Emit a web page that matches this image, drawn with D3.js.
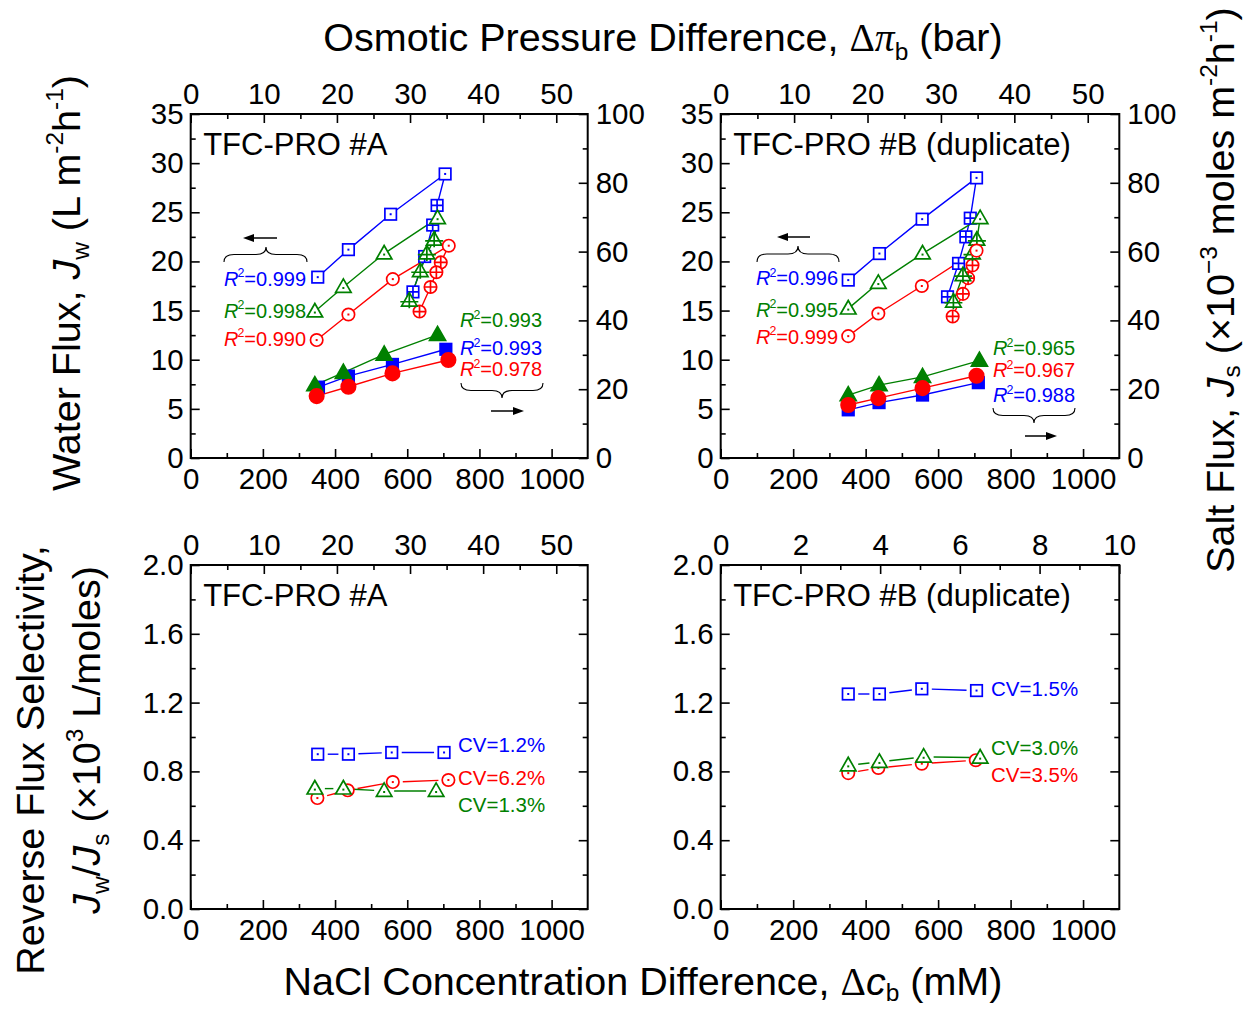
<!DOCTYPE html>
<html><head><meta charset="utf-8">
<script src="https://cdn.jsdelivr.net/npm/d3@7"></script>
<style>
body{margin:0;background:#fff;}
svg text{font-family:"Liberation Sans", Arial, sans-serif;}
</style></head><body>
<svg id="chart" width="1249" height="1011"></svg>
<script>
// ================= DATA =================
const concTicks = [0, 200, 400, 600, 800, 1000];
const concMinor = [100, 300, 500, 700, 900];
const piTicks = [0, 10, 20, 30, 40, 50];
const piMinor = [5, 15, 25, 35, 45];
const piTicksB = [0, 2, 4, 6, 8, 10];
const piMinorB = [1, 3, 5, 7, 9];
const jwTicks = [0, 5, 10, 15, 20, 25, 30, 35];
const jwMinor = [2.5, 7.5, 12.5, 17.5, 22.5, 27.5, 32.5];
const jsTicks = [0, 20, 40, 60, 80, 100];
const jsMinor = [10, 30, 50, 70, 90];
const selTicks = [0, 0.4, 0.8, 1.2, 1.6, 2.0];
const selMinor = [0.2, 0.6, 1.0, 1.4, 1.8];

// --- TFC-PRO #A : water flux vs NaCl concentration difference (open, dotted)
const A_jwBlue_c = [352, 437, 554, 705];
const A_jwBlue = [18.4, 21.2, 24.8, 28.9];
const A_jwGreen_c = [344, 423, 536, 684];
const A_jwGreen = [14.9, 17.4, 20.8, 24.4];
const A_jwRed_c = [349, 437, 560, 715];
const A_jwRed = [12.0, 14.6, 18.2, 21.6];
// --- TFC-PRO #A : water flux vs osmotic pressure difference (crossed)
const A_jwBlue_pi = [33.7, 33.1, 32.0, 30.4];
const A_jwBluePi = [25.7, 23.7, 20.5, 16.9];
const A_jwGreen_pi = [33.3, 32.3, 31.4, 29.9];
const A_jwGreenPi = [22.2, 20.8, 19.0, 16.0];
const A_jwRed_pi = [34.2, 33.6, 32.8, 31.3];
const A_jwRedPi = [19.9, 18.9, 17.4, 14.9];
// --- TFC-PRO #A : salt flux (solid)
const A_jsBlue_c = [354, 437, 559, 707];
const A_jsBlue = [20.6, 23.8, 27.2, 31.6];
const A_jsGreen_c = [344, 423, 536, 684];
const A_jsGreen = [21.2, 24.8, 30.1, 35.8];
const A_jsRed_c = [349, 437, 559, 714];
const A_jsRed = [18.0, 20.7, 24.6, 28.5];

// --- TFC-PRO #B
const B_jwBlue_c = [352, 438, 556, 706];
const B_jwBlue = [18.1, 20.8, 24.3, 28.5];
const B_jwGreen_c = [352, 435, 557, 716];
const B_jwGreen = [15.2, 17.8, 20.8, 24.4];
const B_jwRed_c = [352, 435, 555, 706];
const B_jwRed = [12.4, 14.7, 17.5, 21.1];
const B_jwBlue_pi = [34.0, 33.4, 32.4, 30.9];
const B_jwBluePi = [24.4, 22.5, 19.8, 16.4];
const B_jwGreen_pi = [34.9, 34.3, 33.0, 31.7];
const B_jwGreenPi = [22.2, 20.8, 18.6, 15.9];
const B_jwRed_pi = [34.3, 33.7, 33.0, 31.6];
const B_jwRedPi = [19.6, 18.3, 16.7, 14.4];
const B_jsBlue_c = [352, 437, 557, 711];
const B_jsBlue = [14.0, 16.1, 18.3, 21.9];
const B_jsGreen_c = [352, 437, 557, 714];
const B_jsGreen = [18.3, 21.2, 23.6, 28.3];
const B_jsRed_c = [352, 435, 557, 706];
const B_jsRed = [15.4, 17.4, 20.3, 23.9];

// --- Reverse flux selectivity
const A_selBlue_c = [352, 437, 557, 702];
const A_selBlue = [0.90, 0.90, 0.91, 0.91];
const A_selRed_c = [351, 435, 560, 714];
const A_selRed = [0.645, 0.69, 0.738, 0.75];
const A_selGreen_c = [344, 423, 536, 680];
const A_selGreen = [0.70, 0.70, 0.686, 0.686];
const B_selBlue_c = [352, 438, 555, 706];
const B_selBlue = [1.25, 1.25, 1.28, 1.27];
const B_selGreen_c = [352, 438, 560, 716];
const B_selGreen = [0.835, 0.855, 0.885, 0.88];
const B_selRed_c = [352, 435, 555, 704];
const B_selRed = [0.79, 0.82, 0.845, 0.865];

const A_r2Left = ["0.999", "0.998", "0.990"];
const A_r2Right = ["0.993", "0.993", "0.978"];
const B_r2Left = ["0.996", "0.995", "0.999"];
const B_r2Right = ["0.965", "0.967", "0.988"];
const A_cv = ["1.2%", "6.2%", "1.3%"];
const B_cv = ["1.5%", "3.0%", "3.5%"];

// ================= DRAWING =================
const BLUE = "#0000ff", RED = "#ff0000", GREEN = "#008000";
const SERIF = '"Liberation Serif", "Times New Roman", serif';
const svg = d3.select("#chart");
const TICKFS = 29.5;

const zip = (xs, ys) => xs.map((x, i) => [x, ys[i]]);

function makePanel(p) {
  const g = svg.append("g");
  const x = d3.scaleLinear().domain([0, 1100]).range([p.x0, p.x1]);
  const xt = d3.scaleLinear().domain(p.topDomain).range([p.x0, p.x1]);
  const y = d3.scaleLinear().domain(p.yDomain).range([p.y1, p.y0]);
  const yr = p.yrDomain ? d3.scaleLinear().domain(p.yrDomain).range([p.y1, p.y0]) : null;

  function ax(gen, tr) {
    const a = g.append("g").attr("transform", tr).call(gen);
    a.select(".domain").remove();
    a.selectAll("line").attr("stroke", "#000").attr("stroke-width", 1.6);
    a.selectAll("text").attr("font-size", TICKFS).attr("fill", "#000")
      .style("font-family", '"Liberation Sans", Arial, sans-serif');
    return a;
  }
  ax(d3.axisBottom(x).tickValues(concTicks).tickSize(-9).tickPadding(10).tickFormat(d3.format("d")), `translate(0,${p.y1})`);
  ax(d3.axisBottom(x).tickValues(concMinor).tickSize(-5).tickFormat(""), `translate(0,${p.y1})`);
  ax(d3.axisTop(xt).tickValues(p.topTicks).tickSize(-9).tickPadding(10).tickFormat(d3.format("d")), `translate(0,${p.y0})`);
  ax(d3.axisTop(xt).tickValues(p.topMinor).tickSize(-5).tickFormat(""), `translate(0,${p.y0})`);
  ax(d3.axisLeft(y).tickValues(p.yTicks).tickSize(-9).tickPadding(7).tickFormat(p.yFmt), `translate(${p.x0},0)`);
  ax(d3.axisLeft(y).tickValues(p.yMinor).tickSize(-5).tickFormat(""), `translate(${p.x0},0)`);
  if (yr) {
    ax(d3.axisRight(yr).tickValues(jsTicks).tickSize(-9).tickPadding(8).tickFormat(d3.format("d")), `translate(${p.x1},0)`);
    ax(d3.axisRight(yr).tickValues(jsMinor).tickSize(-5).tickFormat(""), `translate(${p.x1},0)`);
  } else {
    ax(d3.axisRight(y).tickValues(p.yTicks).tickSize(-9).tickFormat(""), `translate(${p.x1},0)`);
    ax(d3.axisRight(y).tickValues(p.yMinor).tickSize(-5).tickFormat(""), `translate(${p.x1},0)`);
  }
  g.append("rect").attr("x", p.x0).attr("y", p.y0).attr("width", p.x1 - p.x0).attr("height", p.y1 - p.y0)
    .attr("fill", "none").attr("stroke", "#000").attr("stroke-width", 2);
  g.append("text").attr("x", p.x0 + 12.5).attr("y", p.y0 + 41).attr("font-size", 31).text(p.title);
  return { g, x, xt, y, yr };
}

function marker(g, type, cx, cy, color) {
  const sw = 1.7;
  const base = type.split("-")[0], deco = type.split("-")[1];
  if (base === "sq") {
    const s = 11.5;
    g.append("rect").attr("x", cx - s / 2).attr("y", cy - s / 2).attr("width", s).attr("height", s)
      .attr("fill", deco === "fill" ? color : "#fff").attr("stroke", color).attr("stroke-width", sw);
    if (deco === "cross") {
      g.append("path").attr("d", `M${cx - s / 2},${cy}H${cx + s / 2}M${cx},${cy - s / 2}V${cy + s / 2}`)
        .attr("stroke", color).attr("stroke-width", sw);
    }
  } else if (base === "ci") {
    const r = deco === "fill" ? 7.2 : 6.2;
    g.append("circle").attr("cx", cx).attr("cy", cy).attr("r", r)
      .attr("fill", deco === "fill" ? color : "#fff").attr("stroke", color).attr("stroke-width", sw);
    if (deco === "cross") {
      g.append("path").attr("d", `M${cx - r},${cy}H${cx + r}M${cx},${cy - r}V${cy + r}`)
        .attr("stroke", color).attr("stroke-width", sw);
    }
  } else if (base === "tr") {
    const w = deco === "fill" ? 16 : 15.5, h = deco === "fill" ? 14 : 13.5;
    const top = cy - h * 0.6, bot = cy + h * 0.4;
    g.append("path").attr("d", `M${cx},${top}L${cx - w / 2},${bot}L${cx + w / 2},${bot}Z`)
      .attr("fill", deco === "fill" ? color : "#fff").attr("stroke", color).attr("stroke-width", sw)
      .attr("stroke-linejoin", "miter");
    if (deco === "cross") {
      g.append("path").attr("d", `M${cx - 9},${cy + 1}H${cx + 9}M${cx},${top}V${bot + 2}`)
        .attr("stroke", color).attr("stroke-width", sw);
    }
  }
  if (deco === "dot") {
    g.append("rect").attr("x", cx - 1).attr("y", cy - 1 + (base === "tr" ? 1 : 0)).attr("width", 2).attr("height", 2).attr("fill", color);
  }
}

const lineGen = d3.line();

function drawLine(g, pts, color, gap) {
  if (!gap) {
    g.append("path").attr("d", lineGen(pts)).attr("fill", "none").attr("stroke", color).attr("stroke-width", 1.4);
  } else {
    for (let i = 0; i < pts.length - 1; i++) {
      const [x1, y1] = pts[i], [x2, y2] = pts[i + 1];
      const L = Math.hypot(x2 - x1, y2 - y1);
      if (L <= 2 * gap) continue;
      const ux = (x2 - x1) / L, uy = (y2 - y1) / L;
      g.append("path").attr("d", lineGen([[x1 + ux * gap, y1 + uy * gap], [x2 - ux * gap, y2 - uy * gap]]))
        .attr("fill", "none").attr("stroke", color).attr("stroke-width", 1.4);
    }
  }
}
function marks(g, pts, type, color) {
  pts.forEach(([px, py]) => marker(g, type, px, py, color));
}

function richText(parent, x, y, parts, size, opts = {}) {
  const t = parent.append("text").attr("x", x).attr("y", y).attr("font-size", size)
    .attr("fill", opts.fill || "#000");
  if (opts.anchor) t.attr("text-anchor", opts.anchor);
  if (opts.transform) t.attr("transform", opts.transform);
  const subOff = opts.subOff != null ? opts.subOff : 0.28;
  let cur = 0;
  parts.forEach(p => {
    let off = 0, fs = size;
    if (p.sub) { off = size * subOff; fs = size * 0.62; }
    if (p.sup) { off = -size * 0.42; fs = size * 0.62; }
    const ts = t.append("tspan").text(p.t).attr("font-size", fs).attr("dy", off - cur);
    if (p.dx) ts.attr("dx", p.dx);
    cur = off;
    if (p.i) ts.attr("font-style", "italic");
    if (p.serif) ts.style("font-family", SERIF);
  });
  return t;
}

function r2Label(g, x, y, val, color) {
  richText(g, x, y, [{ t: "R", i: true }, { t: "2", sup: true, dx: -1 }, { t: "=" + val }], 20, { fill: color });
}
function cvLabel(g, x, y, val, color) {
  g.append("text").attr("x", x).attr("y", y).attr("font-size", 20.5).attr("fill", color).text("CV=" + val);
}
function brace(g, x1, x2, yEnd, yTip, xm) {
  const h = yTip - yEnd, mid = yEnd + h / 2, q = Math.min(10, (x2 - x1) / 6);
  g.append("path").attr("d",
    `M${x1},${yEnd}Q${x1},${mid} ${x1 + q},${mid}L${xm - q},${mid}Q${xm},${mid} ${xm},${yTip}` +
    `Q${xm},${mid} ${xm + q},${mid}L${x2 - q},${mid}Q${x2},${mid} ${x2},${yEnd}`)
    .attr("fill", "none").attr("stroke", "#000").attr("stroke-width", 1.1);
}
function arrow(g, xFrom, xTo, y) {
  const dir = Math.sign(xTo - xFrom), hl = 11, hw = 4;
  g.append("line").attr("x1", xFrom).attr("x2", xTo - dir * hl + dir).attr("y1", y).attr("y2", y)
    .attr("stroke", "#000").attr("stroke-width", 1.5);
  g.append("path").attr("d", `M${xTo},${y}L${xTo - dir * hl},${y - hw}L${xTo - dir * hl},${y + hw}Z`).attr("fill", "#000");
}

// ---------- Panels ----------
const TL = makePanel({ x0: 190.7, x1: 587.7, y0: 114, y1: 458, topDomain: [0, 54.3], topTicks: piTicks, topMinor: piMinor,
  yDomain: [0, 35], yTicks: jwTicks, yMinor: jwMinor, yFmt: d3.format("d"), yrDomain: [0, 100], title: "TFC-PRO #A" });
const TR = makePanel({ x0: 720.7, x1: 1119.3, y0: 114, y1: 458, topDomain: [0, 54.3], topTicks: piTicks, topMinor: piMinor,
  yDomain: [0, 35], yTicks: jwTicks, yMinor: jwMinor, yFmt: d3.format("d"), yrDomain: [0, 100], title: "TFC-PRO #B (duplicate)" });
const BL = makePanel({ x0: 190.7, x1: 587.7, y0: 565, y1: 909, topDomain: [0, 54.3], topTicks: piTicks, topMinor: piMinor,
  yDomain: [0, 2], yTicks: selTicks, yMinor: selMinor, yFmt: d3.format(".1f"), title: "TFC-PRO #A" });
const BR = makePanel({ x0: 720.7, x1: 1119.3, y0: 565, y1: 909, topDomain: [0, 10], topTicks: piTicksB, topMinor: piMinorB,
  yDomain: [0, 2], yTicks: selTicks, yMinor: selMinor, yFmt: d3.format(".1f"), title: "TFC-PRO #B (duplicate)" });

function fluxPanel(P, d) {
  const g = P.g.append("g");
  const pc = (xs, ys) => zip(xs, ys).map(([a, b]) => [P.x(a), P.y(b)]);
  const pp = (xs, ys) => zip(xs, ys).map(([a, b]) => [P.xt(a), P.y(b)]);
  const ps = (xs, ys) => zip(xs, ys).map(([a, b]) => [P.x(a), P.yr(b)]);
  const S = [
    { c: BLUE, o: pc(d.bc, d.b), k: pp(d.bpx, d.bp), s: ps(d.sbc, d.sb), to: "sq-dot", tk: "sq-cross", ts: "sq-fill" },
    { c: GREEN, o: pc(d.gc, d.g), k: pp(d.gpx, d.gp), s: ps(d.sgc, d.sg), to: "tr-dot", tk: "tr-cross", ts: "tr-fill" },
    { c: RED, o: pc(d.rc, d.r), k: pp(d.rpx, d.rp), s: ps(d.src, d.sr), to: "ci-dot", tk: "ci-cross", ts: "ci-fill" }
  ];
  S.forEach(s => drawLine(g, s.s, s.c));
  S.forEach(s => marks(g, s.s, s.ts, s.c));
  S.forEach(s => { drawLine(g, s.o, s.c); drawLine(g, [s.o[s.o.length - 1]].concat(s.k), s.c); });
  [S[2], S[0], S[1]].forEach(s => { marks(g, s.k, s.tk, s.c); });
  [S[2], S[0], S[1]].forEach(s => { marks(g, s.o, s.to, s.c); });
}

fluxPanel(TL, { bc: A_jwBlue_c, b: A_jwBlue, gc: A_jwGreen_c, g: A_jwGreen, rc: A_jwRed_c, r: A_jwRed,
  bpx: A_jwBlue_pi, bp: A_jwBluePi, gpx: A_jwGreen_pi, gp: A_jwGreenPi, rpx: A_jwRed_pi, rp: A_jwRedPi,
  sbc: A_jsBlue_c, sb: A_jsBlue, sgc: A_jsGreen_c, sg: A_jsGreen, src: A_jsRed_c, sr: A_jsRed });
fluxPanel(TR, { bc: B_jwBlue_c, b: B_jwBlue, gc: B_jwGreen_c, g: B_jwGreen, rc: B_jwRed_c, r: B_jwRed,
  bpx: B_jwBlue_pi, bp: B_jwBluePi, gpx: B_jwGreen_pi, gp: B_jwGreenPi, rpx: B_jwRed_pi, rp: B_jwRedPi,
  sbc: B_jsBlue_c, sb: B_jsBlue, sgc: B_jsGreen_c, sg: B_jsGreen, src: B_jsRed_c, sr: B_jsRed });

function selPanel(P, list) {
  const g = P.g.append("g");
  list.forEach(s => drawLine(g, zip(s.xs, s.ys).map(([a, b]) => [P.x(a), P.y(b)]), s.c, 10));
  list.forEach(s => marks(g, zip(s.xs, s.ys).map(([a, b]) => [P.x(a), P.y(b)]), s.t, s.c));
}
selPanel(BL, [
  { xs: A_selBlue_c, ys: A_selBlue, c: BLUE, t: "sq-dot" },
  { xs: A_selRed_c, ys: A_selRed, c: RED, t: "ci-dot" },
  { xs: A_selGreen_c, ys: A_selGreen, c: GREEN, t: "tr-dot" }
]);
selPanel(BR, [
  { xs: B_selBlue_c, ys: B_selBlue, c: BLUE, t: "sq-dot" },
  { xs: B_selRed_c, ys: B_selRed, c: RED, t: "ci-dot" },
  { xs: B_selGreen_c, ys: B_selGreen, c: GREEN, t: "tr-dot" }
]);

// ---------- Annotations ----------
const an = svg.append("g");
r2Label(an, 224, 285.5, A_r2Left[0], BLUE);
r2Label(an, 224, 317.5, A_r2Left[1], GREEN);
r2Label(an, 224, 345.5, A_r2Left[2], RED);
r2Label(an, 460, 327, A_r2Right[0], GREEN);
r2Label(an, 460, 355, A_r2Right[1], BLUE);
r2Label(an, 460, 376, A_r2Right[2], RED);
brace(an, 224, 307, 262, 247, 266);
arrow(an, 277, 243, 238);
brace(an, 461, 543, 383, 398, 502);
arrow(an, 491, 524, 411);
r2Label(an, 756, 285, B_r2Left[0], BLUE);
r2Label(an, 756, 316.5, B_r2Left[1], GREEN);
r2Label(an, 756, 343.5, B_r2Left[2], RED);
r2Label(an, 993, 355, B_r2Right[0], GREEN);
r2Label(an, 993, 377, B_r2Right[1], RED);
r2Label(an, 993, 402, B_r2Right[2], BLUE);
brace(an, 757, 839, 262, 246, 798);
arrow(an, 810, 777, 237);
brace(an, 993, 1075, 408, 423, 1034);
arrow(an, 1025, 1057, 436);
cvLabel(an, 458, 752, A_cv[0], BLUE);
cvLabel(an, 458, 785, A_cv[1], RED);
cvLabel(an, 458, 812, A_cv[2], GREEN);
cvLabel(an, 991, 696, B_cv[0], BLUE);
cvLabel(an, 991, 754.5, B_cv[1], GREEN);
cvLabel(an, 991, 782, B_cv[2], RED);

// ---------- Axis titles ----------
const TFS = 39.5;
richText(svg, 663, 51, [{ t: "Osmotic Pressure Difference, " }, { t: "Δ", serif: true }, { t: "π", i: true, serif: true },
  { t: "b", sub: true }, { t: " (bar)" }], TFS, { anchor: "middle", subOff: 0.24 });
richText(svg, 643, 995, [{ t: "NaCl Concentration Difference, " }, { t: "Δ", serif: true }, { t: "c", i: true },
  { t: "b", sub: true }, { t: " (mM)" }], TFS, { anchor: "middle", subOff: 0.16 });
richText(svg, 0, 0, [{ t: "Water Flux, " }, { t: "J", i: true }, { t: "w", sub: true }, { t: " (L m" },
  { t: "-2", sup: true }, { t: "h" }, { t: "-1", sup: true }, { t: ")" }], TFS,
  { anchor: "middle", transform: "translate(80,283) rotate(-90)", subOff: 0.24 });
richText(svg, 0, 0, [{ t: "Reverse Flux Selectivity," }], TFS,
  { anchor: "middle", transform: "translate(44,760) rotate(-90)" });
richText(svg, 0, 0, [{ t: "J", i: true }, { t: "w", sub: true }, { t: "/" }, { t: "J", i: true }, { t: "s", sub: true },
  { t: " (×10" }, { t: "3", sup: true }, { t: " L/moles)" }], TFS,
  { anchor: "middle", transform: "translate(100,740) rotate(-90)", subOff: 0.24 });
richText(svg, 0, 0, [{ t: "Salt Flux, " }, { t: "J", i: true }, { t: "s", sub: true }, { t: " (×10" },
  { t: "−3", sup: true }, { t: " moles m" }, { t: "-2", sup: true }, { t: "h" }, { t: "-1", sup: true }, { t: ")" }], TFS,
  { anchor: "middle", transform: "translate(1234,290) rotate(-90)", subOff: 0.14 });
</script>
</body></html>
